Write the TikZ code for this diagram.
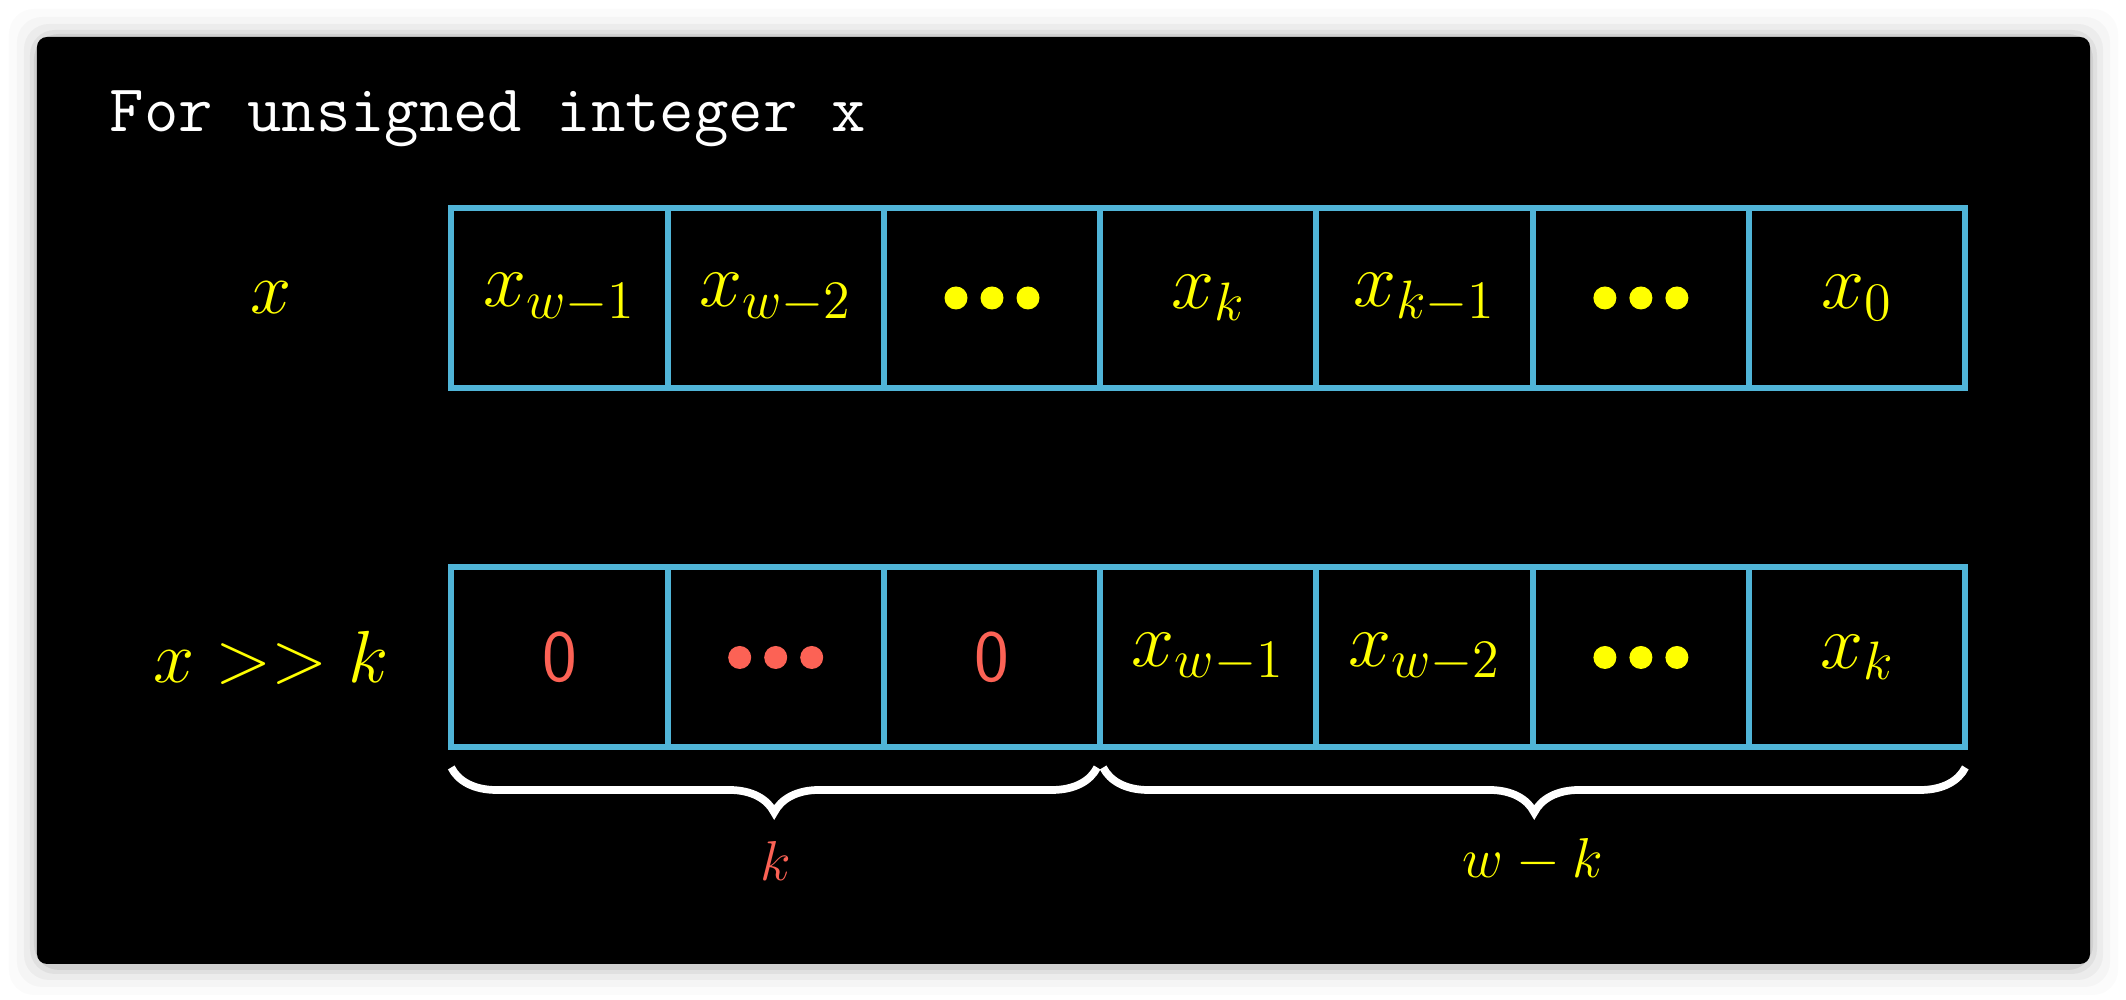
\documentclass[tikz,border=0pt]{standalone}
\usepackage{fix-cm}
\usepackage{xcolor}
\usepackage{amsmath}
\usepackage{tikz}
\usetikzlibrary{positioning, calc, decorations.pathreplacing}
\definecolor{cellblue}{RGB}{80,180,215}
\definecolor{bityellow}{RGB}{255,255,0}
\definecolor{zerored}{RGB}{252,98,85}

\begin{document}
\begin{tikzpicture}[
    cell/.style={draw=cellblue, line width=1.7pt, minimum width=2.163cm,
                 minimum height=1.8cm, outer sep=0pt, inner sep=0pt,
                 text=bityellow, font=\fontsize{22}{26}\selectfont},
    zero/.style={cell, text=zerored, font=\fontsize{21}{25}\selectfont\sffamily},
    rowlabel/.style={text=bityellow, font=\fontsize{21}{25}\selectfont},
    brace/.style={decorate, decoration={brace, mirror, amplitude=0.45cm},
                  draw=white, line width=2.2pt},
    count/.style={font=\fontsize{16}{19}\selectfont},
  ]
  \useasboundingbox (0,0) rectangle (21.26,10);

  % Window and its shadow
  \foreach \s/\o in {0.28/0.015, 0.20/0.025, 0.13/0.035, 0.07/0.05, 0.03/0.07}
    \fill[black, opacity=\o, rounded corners=0.25cm]
      (0.37-\s,0.33-\s) rectangle (20.90+\s,9.63+\s);
  \fill[black, rounded corners=0.1cm] (0.37,0.36) rectangle (20.90,9.63);

  \node[anchor=base west, inner sep=0pt, text=white,
        font=\fontsize{19}{23}\selectfont\ttfamily]
    (title) at (1.09,8.68) {For unsigned integer x};

  % Original value
  \node[cell] (t1) at (5.594,7.02) {$x_{w-1}$};
  \node[cell, right=0pt of t1] (t2) {$x_{w-2}$};
  \node[cell, right=0pt of t2] (t3) {};
  \node[cell, right=0pt of t3] (t4) {$x_k$};
  \node[cell, right=0pt of t4] (t5) {$x_{k-1}$};
  \node[cell, right=0pt of t5] (t6) {};
  \node[cell, right=0pt of t6] (t7) {$x_0$};
  \node[rowlabel] (xlab) at (2.71,7.02) {$x$};

  % Shifted value
  \node[zero] (b1) at (5.594,3.425) {0};
  \node[cell, right=0pt of b1] (b2) {};
  \node[zero, right=0pt of b2] (b3) {0};
  \node[cell, right=0pt of b3] (b4) {$x_{w-1}$};
  \node[cell, right=0pt of b4] (b5) {$x_{w-2}$};
  \node[cell, right=0pt of b5] (b6) {};
  \node[cell, right=0pt of b6] (b7) {$x_k$};
  \node[rowlabel] (shlab) at (2.71,3.425) {$x >> k$};

  % Dots
  \foreach \c in {t3,t6,b6}
    \foreach \i in {-1,0,1}
      \fill[bityellow] ($(\c)+(\i*0.36,0)$) circle (0.115);
  \foreach \i in {-1,0,1}
    \fill[zerored] ($(b2)+(\i*0.36,0)$) circle (0.115);

  % Braces
  \draw[brace] ([yshift=-0.2cm]b1.south west) -- ([xshift=-0.03cm, yshift=-0.2cm]b3.south east);
  \draw[brace] ([xshift=0.03cm, yshift=-0.2cm]b4.south west) -- ([yshift=-0.2cm]b7.south east);
  \node[count, text=zerored] (klab)
    at ($(b1.south west)!0.5!(b3.south east)+(0,-1.13)$) {$k$};
  \node[count, text=bityellow] (wklab)
    at ($(b4.south west)!0.5!(b7.south east)+(0,-1.13)$) {$w-k$};

\end{tikzpicture}
\end{document}
